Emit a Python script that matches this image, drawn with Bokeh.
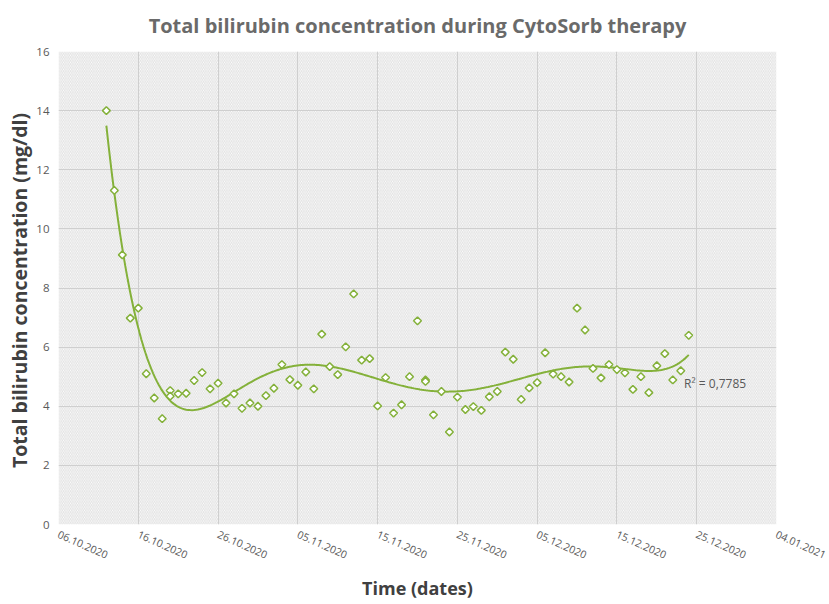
import numpy as np
import pandas as pd
from bokeh.plotting import figure
from bokeh.models import FixedTicker, BoxAnnotation, Label, Range1d
from bokeh.embed import file_html
from bokeh.resources import INLINE

# ---- data ----
dates = [
    "2020-10-12", "2020-10-13", "2020-10-14", "2020-10-15", "2020-10-16", "2020-10-17",
    "2020-10-18", "2020-10-19", "2020-10-20", "2020-10-20", "2020-10-21", "2020-10-22",
    "2020-10-23", "2020-10-24", "2020-10-25", "2020-10-26", "2020-10-27", "2020-10-28",
    "2020-10-29", "2020-10-30", "2020-10-31", "2020-11-01", "2020-11-02", "2020-11-03",
    "2020-11-04", "2020-11-05", "2020-11-06", "2020-11-07", "2020-11-08", "2020-11-09",
    "2020-11-10", "2020-11-11", "2020-11-12", "2020-11-13", "2020-11-14", "2020-11-15",
    "2020-11-16", "2020-11-17", "2020-11-18", "2020-11-19", "2020-11-20", "2020-11-21",
    "2020-11-21", "2020-11-22", "2020-11-23", "2020-11-24", "2020-11-25", "2020-11-26",
    "2020-11-27", "2020-11-28", "2020-11-29", "2020-11-30", "2020-12-01", "2020-12-02",
    "2020-12-03", "2020-12-04", "2020-12-05", "2020-12-06", "2020-12-07", "2020-12-08",
    "2020-12-09", "2020-12-10", "2020-12-11", "2020-12-12", "2020-12-13", "2020-12-14",
    "2020-12-15", "2020-12-16", "2020-12-17", "2020-12-18", "2020-12-19", "2020-12-20",
    "2020-12-21", "2020-12-22", "2020-12-23", "2020-12-24",
]
bilirubin = [
    14.0, 11.3, 9.12, 6.98, 7.32, 5.10,
    4.28, 3.58, 4.53, 4.34, 4.42, 4.44,
    4.87, 5.14, 4.59, 4.78, 4.11, 4.42,
    3.93, 4.11, 4.00, 4.36, 4.61, 5.41,
    4.90, 4.71, 5.16, 4.59, 6.44, 5.34,
    5.07, 6.01, 7.80, 5.56, 5.61, 4.01,
    4.97, 3.77, 4.05, 5.00, 6.89, 4.89,
    4.84, 3.71, 4.50, 3.13, 4.31, 3.89,
    3.99, 3.86, 4.32, 4.50, 5.83, 5.59,
    4.23, 4.62, 4.80, 5.81, 5.09, 5.00,
    4.82, 7.32, 6.58, 5.28, 4.96, 5.41,
    5.24, 5.13, 4.57, 5.00, 4.46, 5.37,
    5.78, 4.89, 5.20, 6.40,
]
tick_dates = ["2020-10-06", "2020-10-16", "2020-10-26", "2020-11-05", "2020-11-15",
              "2020-11-25", "2020-12-05", "2020-12-15", "2020-12-25", "2021-01-04"]
tick_labels = ["06.10.2020", "16.10.2020", "26.10.2020", "05.11.2020", "15.11.2020",
               "25.11.2020", "05.12.2020", "15.12.2020", "25.12.2020", "04.01.2021"]
y_ticks = [0, 2, 4, 6, 8, 10, 12, 14, 16]
trend_degree = 6
r2_text = "R\u00b2 = 0,7785"
title_text = "Total bilirubin concentration during CytoSorb therapy"
x_title = "Time (dates)"
y_title = "Total bilirubin concentration  (mg/dl)"

GREEN = "#84b13a"
GRID = "#cfcfcf"
FONT = "Open Sans"

x = pd.to_datetime(dates)
y = np.array(bilirubin)
ticks_dt = pd.to_datetime(tick_dates)
tick_ms = [float(t.value // 10**6) for t in ticks_dt]

# polynomial trendline (order 6), as in the spreadsheet chart
t0 = x[0]
t_days = np.array([(d - t0).days for d in x], dtype=float)
poly = np.polynomial.Polynomial.fit(t_days, y, trend_degree)
t_fine = np.linspace(t_days.min(), t_days.max(), 300)
x_fine = t0 + pd.to_timedelta(t_fine, unit="D")
y_fine = poly(t_fine)

p = figure(width=829, height=604, x_axis_type="datetime",
           output_backend="svg", toolbar_location=None,
           x_range=Range1d(tick_ms[0], tick_ms[-1]),
           y_range=Range1d(y_ticks[0], y_ticks[-1]),
           min_border_left=58, min_border_right=53,
           min_border_top=51, min_border_bottom=80)
p.outline_line_color = None
p.background_fill_color = "white"

# hatched plot-area background
p.add_layout(BoxAnnotation(fill_alpha=0, line_color=None,
                           hatch_pattern="\\", hatch_color="#e0e0e0",
                           hatch_scale=3.5, hatch_weight=1, level="image"))

p.title.text = title_text
p.title.text_font = FONT
p.title.text_font_size = "20px"
p.title.text_font_style = "bold"
p.title.text_color = "#6a6a6a"
p.title.align = "center"
p.title.vertical_align = "top"
p.title.standoff = 21

p.xgrid.grid_line_color = GRID
p.ygrid.grid_line_color = GRID

xa = p.xaxis[0]
xa.ticker = FixedTicker(ticks=tick_ms)
xa.major_label_overrides = {ms: lab for ms, lab in zip(tick_ms, tick_labels)}
xa.major_label_orientation = -0.42
xa.axis_line_color = None
xa.major_tick_line_color = None
xa.minor_tick_line_color = None
xa.major_tick_in = 0
xa.major_tick_out = 0
xa.major_label_text_font = FONT
xa.major_label_text_font_size = "10.5px"
xa.major_label_text_color = "#595959"
xa.major_label_standoff = 9
xa.axis_label = x_title
xa.axis_label_text_font = FONT
xa.axis_label_text_font_size = "18px"
xa.axis_label_text_font_style = "bold"
xa.axis_label_text_color = "#404040"
xa.axis_label_standoff = 10

ya = p.yaxis[0]
ya.ticker = FixedTicker(ticks=y_ticks)
ya.axis_line_color = None
ya.major_tick_line_color = None
ya.minor_tick_line_color = None
ya.major_tick_in = 0
ya.major_tick_out = 0
ya.major_label_text_font = FONT
ya.major_label_text_font_size = "11.5px"
ya.major_label_text_color = "#595959"
ya.major_label_standoff = 9
ya.axis_label = y_title
ya.axis_label_text_font = FONT
ya.axis_label_text_font_size = "19.5px"
ya.axis_label_text_font_style = "bold"
ya.axis_label_text_color = "#404040"
ya.axis_label_standoff = 0

p.line(x_fine, y_fine, line_color=GREEN, line_width=2)
p.scatter(x, y, marker="square", angle=np.pi / 4, size=5.5,
          line_color=GREEN, line_width=1.5, fill_color="white")

p.add_layout(Label(x=x[-1] - pd.Timedelta(hours=14), y=4.76, text=r2_text,
                   text_font=FONT, text_font_size="12px", text_color="#595959",
                   text_baseline="middle", text_align="left"))

open("out.html", "w").write(file_html(p, INLINE))
